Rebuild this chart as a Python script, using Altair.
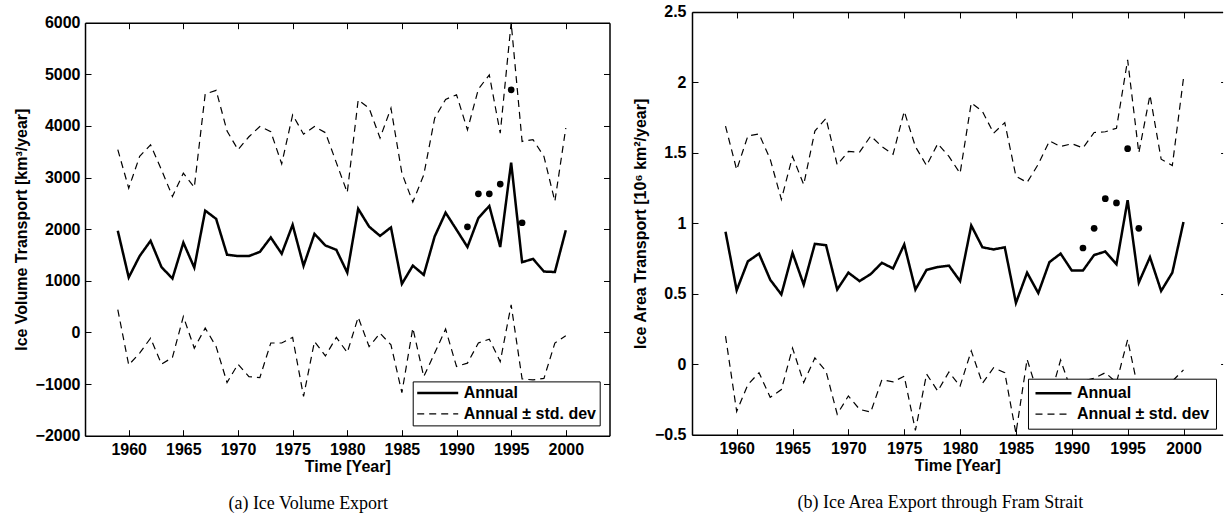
import altair as alt
import pandas as pd

# ---------------- data ----------------
YEARS = list(range(1959, 2001))

VOL_ANNUAL = [1970, 1065, 1480, 1775, 1265, 1045, 1740, 1255, 2360, 2200,
              1505, 1480, 1480, 1560, 1840, 1525, 2085, 1290, 1910, 1685,
              1600, 1160, 2395, 2050, 1870, 2035, 940, 1295, 1115, 1860,
              2320, 1990, 1655, 2215, 2450, 1655, 3290, 1360, 1425, 1180,
              1170, 1980]
VOL_UPPER = [3540, 2795, 3410, 3635, 3150, 2635, 3085, 2810, 4620, 4690,
             3900, 3540, 3790, 3990, 3890, 3265, 4215, 3840, 3990, 3870,
             3290, 2710, 4505, 4345, 3765, 4345, 3085, 2525, 3050, 4150,
             4515, 4605, 3925, 4715, 4990, 3860, 6000, 3700, 3735, 3410,
             2540, 3960]
VOL_LOWER = [440, -630, -400, -110, -615, -485, 310, -305, 85, -275,
             -970, -615, -855, -875, -205, -205, -95, -1240, -175, -455,
             -95, -390, 295, -275, -15, -240, -1165, 85, -855, -400,
             65, -660, -595, -205, -130, -565, 535, -900, -920, -890,
             -205, -65]
DOT_YEARS = [1991, 1992, 1993, 1994, 1995, 1996]
VOL_DOTS = [2045, 2685, 2685, 2875, 4700, 2125]

AREA_ANNUAL = [0.94, 0.525, 0.73, 0.785, 0.60, 0.495, 0.79, 0.565, 0.855, 0.845,
               0.53, 0.65, 0.59, 0.64, 0.72, 0.68, 0.85, 0.53, 0.67, 0.69,
               0.70, 0.59, 0.985, 0.83, 0.815, 0.83, 0.435, 0.65, 0.505, 0.725,
               0.785, 0.665, 0.665, 0.775, 0.80, 0.71, 1.165, 0.58, 0.76, 0.52,
               0.65, 1.01]
AREA_UPPER = [1.69, 1.38, 1.62, 1.635, 1.455, 1.17, 1.475, 1.275, 1.655, 1.745,
              1.415, 1.51, 1.505, 1.62, 1.545, 1.49, 1.795, 1.545, 1.41, 1.565,
              1.475, 1.355, 1.855, 1.795, 1.64, 1.715, 1.335, 1.29, 1.42, 1.585,
              1.545, 1.565, 1.535, 1.645, 1.65, 1.675, 2.16, 1.50, 1.91, 1.455,
              1.41, 2.03]
AREA_LOWER = [0.20, -0.335, -0.145, -0.06, -0.235, -0.18, 0.115, -0.13, 0.045, -0.05,
              -0.355, -0.225, -0.32, -0.34, -0.11, -0.125, -0.085, -0.47, -0.07, -0.19,
              -0.055, -0.155, 0.095, -0.135, -0.025, -0.06, -0.49, 0.035, -0.22, -0.25,
              0.03, -0.2, -0.12, -0.1, -0.06, -0.13, 0.175, -0.2, -0.2, -0.25,
              -0.12, -0.04]
AREA_DOTS = [0.825, 0.965, 1.175, 1.145, 1.53, 0.965]

X_TICKS = [1960, 1965, 1970, 1975, 1980, 1985, 1990, 1995, 2000]
VOL_TICKS = [-2000, -1000, 0, 1000, 2000, 3000, 4000, 5000, 6000]
AREA_TICKS = [-0.5, 0, 0.5, 1, 1.5, 2, 2.5]

SERIES = ["Annual", "Annual \u00b1 std. dev"]
FONT = "Liberation Sans"
SERIF = "Liberation Serif"
VIEW_H = 423.7


def panel(annual, upper, lower, dots, *, x_max, width, y_dom, y_bottom, y_top,
          y_ticks, y_fmt, y_title, y_lab_pad, leg_x, leg_y, sym_len, leg_pad,
          caption, cap_dx, right_frame):
    H = VIEW_H
    df_mean = pd.DataFrame({"year": YEARS, "value": annual, "series": SERIES[0], "part": "mean"})
    df_std = pd.concat([
        pd.DataFrame({"year": YEARS, "value": upper, "series": SERIES[1], "part": "upper"}),
        pd.DataFrame({"year": YEARS, "value": lower, "series": SERIES[1], "part": "lower"}),
    ])
    df_dots = pd.DataFrame({"year": DOT_YEARS, "value": dots})

    xs = alt.Scale(domain=[1956, x_max], nice=False, zero=False)
    ys = alt.Scale(domain=y_dom, range=[y_bottom, y_top], nice=False, zero=False)
    dash_scale = alt.Scale(domain=SERIES, range=[[1, 0], [7, 5]])
    sw_scale = alt.Scale(domain=SERIES, range=[2.5, 1.2], type="ordinal")
    leg = alt.Legend(orient="none", legendX=leg_x, legendY=leg_y, title=None,
                     symbolType="stroke", symbolSize=sym_len ** 2,
                     symbolStrokeColor="black", clipHeight=17, rowPadding=4,
                     labelOffset=4, padding=leg_pad, strokeColor="black",
                     fillColor="white", labelFont=FONT, labelFontSize=16,
                     labelFontWeight="bold", labelColor="black", labelLimit=300,
                     symbolOffset=0)

    mean = alt.Chart(df_mean).mark_line(color="black", strokeJoin="miter").encode(
        x=alt.X("year:Q", scale=xs, axis=alt.Axis(
            orient="bottom", offset=y_bottom - H, values=X_TICKS, format="d",
            title="Time [Year]", ticks=False, tickSize=0, labelPadding=6,
            titlePadding=1, domain=True)),
        y=alt.Y("value:Q", scale=ys, axis=alt.Axis(
            orient="left", offset=0, values=y_ticks, format=y_fmt, title=y_title,
            ticks=False, tickSize=0, labelPadding=y_lab_pad, titlePadding=6,
            domain=True)),
        strokeDash=alt.StrokeDash("series:N", scale=dash_scale, legend=leg),
        strokeWidth=alt.StrokeWidth("series:N", scale=sw_scale, legend=leg),
    )
    std = alt.Chart(df_std).mark_line(color="black").encode(
        x=alt.X("year:Q", scale=xs, axis=alt.Axis(
            orient="top", offset=-y_bottom, values=X_TICKS, labels=False,
            ticks=True, tickSize=6, domain=False, title=None)),
        y=alt.Y("value:Q", scale=ys, axis=alt.Axis(
            orient="right", offset=-width, values=y_ticks, labels=False,
            ticks=True, tickSize=6, domain=False, title=None)),
        detail="part:N",
        strokeDash=alt.StrokeDash("series:N", scale=dash_scale, legend=leg),
        strokeWidth=alt.StrokeWidth("series:N", scale=sw_scale, legend=leg),
    )
    pts = alt.Chart(df_dots).mark_circle(color="black", size=45, opacity=1).encode(
        x=alt.X("year:Q", scale=xs, axis=alt.Axis(
            orient="bottom", offset=y_top - H, values=X_TICKS, labels=False,
            ticks=True, tickSize=6, domain=True, title=None)),
        y=alt.Y("value:Q", scale=ys, axis=alt.Axis(
            orient="left", offset=-width, values=y_ticks, labels=False,
            ticks=True, tickSize=6 if right_frame else 2, domain=right_frame,
            title=None)),
    )
    return alt.layer(mean, std, pts).resolve_axis(
        x="independent", y="independent"
    ).properties(
        width=width, height=H,
        title=alt.TitleParams(caption, orient="bottom", anchor="middle",
                              frame="group", dx=cap_dx, offset=20, font=SERIF,
                              fontSize=18, fontWeight="normal", color="black"),
    )


left = panel(VOL_ANNUAL, VOL_UPPER, VOL_LOWER, VOL_DOTS,
             x_max=2004, width=524.5, y_dom=[-2000, 6000],
             y_bottom=423.7, y_top=10.7, y_ticks=VOL_TICKS, y_fmt="d",
             y_title="Ice Volume Transport [km\u00b3/year]", y_lab_pad=5,
             leg_x=327.7, leg_y=369.4, sym_len=41, leg_pad=3,
             caption="(a) Ice Volume Export", cap_dx=-39, right_frame=True)

right = panel(AREA_ANNUAL, AREA_UPPER, AREA_LOWER, AREA_DOTS,
              x_max=2003.5, width=530.6, y_dom=[-0.5, 2.5],
              y_bottom=422.7, y_top=0, y_ticks=AREA_TICKS, y_fmt="~g",
              y_title="Ice Area Transport [10\u2076 km\u00b2/year]", y_lab_pad=6,
              leg_x=336, leg_y=366.7, sym_len=36, leg_pad=6,
              caption="(b) Ice Area Export through Fram Strait", cap_dx=-17,
              right_frame=False)

chart = alt.hconcat(left, right, spacing=22).resolve_scale(
    strokeDash="independent", strokeWidth="independent"
).resolve_legend(
    strokeDash="independent", strokeWidth="independent"
).properties(
    padding={"left": 13, "top": 4, "right": 0, "bottom": 0},
    background="white",
).configure_view(stroke=None).configure_axis(
    labelFont=FONT, labelFontSize=16, labelFontWeight="bold", labelColor="black",
    titleFont=FONT, titleFontSize=16, titleFontWeight="bold", titleColor="black",
    domainColor="black", domainWidth=1.5, tickColor="black", tickWidth=1,
    grid=False, labelFlush=False, labelOverlap=False,
)

chart.save("out.html", embed_options={"renderer": "svg", "actions": False})
